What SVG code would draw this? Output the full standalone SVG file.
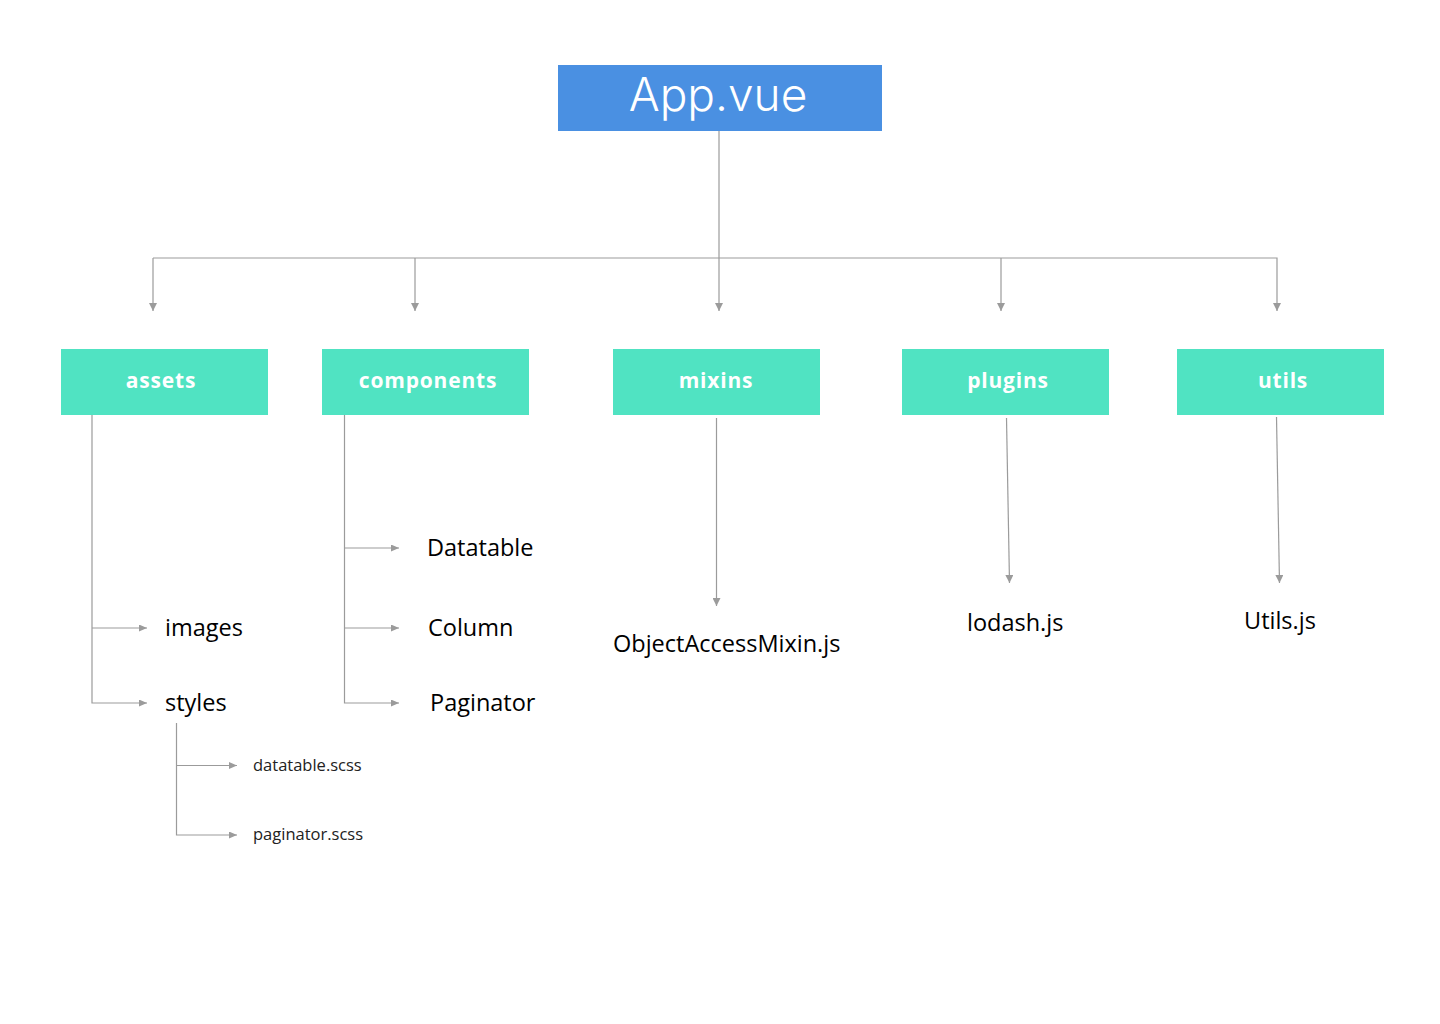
<svg xmlns="http://www.w3.org/2000/svg" width="1440" height="1024" viewBox="0 0 1440 1024">
<defs>
<marker id="ah" viewBox="0 0 8 8" refX="8" refY="4" markerWidth="8" markerHeight="8" markerUnits="userSpaceOnUse" orient="auto">
<path d="M0,0 L8,4 L0,8 Z" fill="#9B9B9B"/>
</marker>
<marker id="as" viewBox="0 0 8 7" refX="8" refY="3.5" markerWidth="8" markerHeight="7" markerUnits="userSpaceOnUse" orient="auto">
<path d="M0,0 L8,3.5 L0,7 Z" fill="#9B9B9B"/>
</marker>
</defs>
<style>
.ln{fill:none;stroke:#9B9B9B;stroke-width:1.2}
.root{fill:#4A90E2}
.folder{fill:#50E3C2}
.rt{font-family:Inter,"Open Sans","Liberation Sans",sans-serif;font-weight:300;font-size:46px;fill:#fff;text-anchor:middle}
.ft{font-family:"Open Sans","Liberation Sans",sans-serif;font-weight:700;font-size:21px;fill:#fff;text-anchor:middle;letter-spacing:0.8px}
.lb{font-family:"Open Sans","Liberation Sans",sans-serif;font-size:23.5px;fill:#000}
.sm{font-family:"Open Sans","Liberation Sans",sans-serif;font-size:16.5px;fill:#222}
</style>
<rect width="1440" height="1024" fill="#fff"/>
<g id="connectors">
<line class="ln" x1="719" y1="131" x2="719" y2="311" marker-end="url(#ah)"/>
<polyline class="ln" points="153,258 1277,258 1277,311" marker-end="url(#ah)"/>
<line class="ln" x1="153" y1="258" x2="153" y2="311" marker-end="url(#ah)"/>
<line class="ln" x1="415" y1="258" x2="415" y2="311" marker-end="url(#ah)"/>
<line class="ln" x1="1001" y1="258" x2="1001" y2="311" marker-end="url(#ah)"/>
<polyline class="ln" points="92,415 92,703 147,703" marker-end="url(#as)"/>
<line class="ln" x1="92" y1="628" x2="147" y2="628" marker-end="url(#as)"/>
<polyline class="ln" points="344.5,415 344.5,703 399,703" marker-end="url(#as)"/>
<line class="ln" x1="344.5" y1="548" x2="399" y2="548" marker-end="url(#as)"/>
<line class="ln" x1="344.5" y1="628" x2="399" y2="628" marker-end="url(#as)"/>
<polyline class="ln" points="176.5,723 176.5,835 237,835" marker-end="url(#as)"/>
<line class="ln" x1="176.5" y1="765.5" x2="237" y2="765.5" marker-end="url(#as)"/>
<line class="ln" x1="716.5" y1="418" x2="716.5" y2="606" marker-end="url(#ah)"/>
<line class="ln" x1="1006.5" y1="418" x2="1009.5" y2="583" marker-end="url(#ah)"/>
<line class="ln" x1="1276.5" y1="417" x2="1279.5" y2="583" marker-end="url(#ah)"/>
</g>
<g id="app-vue">
<rect class="root" x="558" y="65" width="324" height="66"/>
<text class="rt" x="718" y="111">App.vue</text>
</g>
<g id="assets">
<rect class="folder" x="61" y="349" width="207" height="66"/>
<text class="ft" x="161" y="388">assets</text>
</g>
<g id="components">
<rect class="folder" x="322" y="349" width="207" height="66"/>
<text class="ft" x="428" y="388">components</text>
</g>
<g id="mixins">
<rect class="folder" x="613" y="349" width="207" height="66"/>
<text class="ft" x="716" y="388">mixins</text>
</g>
<g id="plugins">
<rect class="folder" x="902" y="349" width="207" height="66"/>
<text class="ft" x="1008" y="388">plugins</text>
</g>
<g id="utils">
<rect class="folder" x="1177" y="349" width="207" height="66"/>
<text class="ft" x="1283" y="388">utils</text>
</g>
<g id="images"><text class="lb" x="165" y="636">images</text></g>
<g id="styles"><text class="lb" x="165" y="711">styles</text></g>
<g id="datatable-scss"><text class="sm" x="253" y="771">datatable.scss</text></g>
<g id="paginator-scss"><text class="sm" x="253" y="840">paginator.scss</text></g>
<g id="datatable"><text class="lb" x="427" y="556">Datatable</text></g>
<g id="column"><text class="lb" x="428" y="636">Column</text></g>
<g id="paginator"><text class="lb" x="430" y="711">Paginator</text></g>
<g id="objectaccessmixin"><text class="lb" x="613" y="652">ObjectAccessMixin.js</text></g>
<g id="lodash"><text class="lb" x="967" y="631">lodash.js</text></g>
<g id="utils-js"><text class="lb" x="1244" y="629">Utils.js</text></g>
</svg>
